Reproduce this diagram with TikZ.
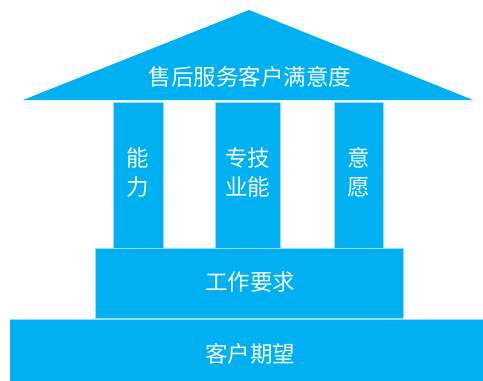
\documentclass[tikz,border=0pt]{standalone}
\usepackage{fontspec}
\newfontfamily\cjk{Noto Sans CJK SC}
\definecolor{blk}{HTML}{00B0F0}
\definecolor{edge}{HTML}{9ADCF6}
\begin{document}
\begin{tikzpicture}[x=1pt,y=-1pt,
  part/.style={fill=blk,draw=edge,line width=0.5pt},
  lbl/.style={text=white!96!blk,font=\cjk\fontsize{22.5}{29}\selectfont,align=center,inner sep=0pt}]
\useasboundingbox (0,0) rectangle (483,381);
\fill[blk] (249,10) -- (473,100) -- (23,100) -- cycle;
\node[lbl] (roof) at (250,77) {售后服务客户满意度};
\draw[part] (113,102) rectangle (163,248);
\draw[part] (215,102) rectangle (280,248);
\draw[part] (334,102) rectangle (383,248);
\node[lbl] (p1) at (138,172) {能\\力};
\node[lbl] (p2) at (247.5,172) {专技\\业能};
\node[lbl] (p3) at (358.5,172) {意\\愿};
\draw[part] (95,248) rectangle (403,318);
\node[lbl] (mid) at (250,282) {工作要求};
\fill[edge] (10,319) rectangle (483,381);
\fill[blk] (10,319.7) rectangle (483,381);
\node[lbl] (base) at (250,354) {客户期望};
\end{tikzpicture}
\end{document}
